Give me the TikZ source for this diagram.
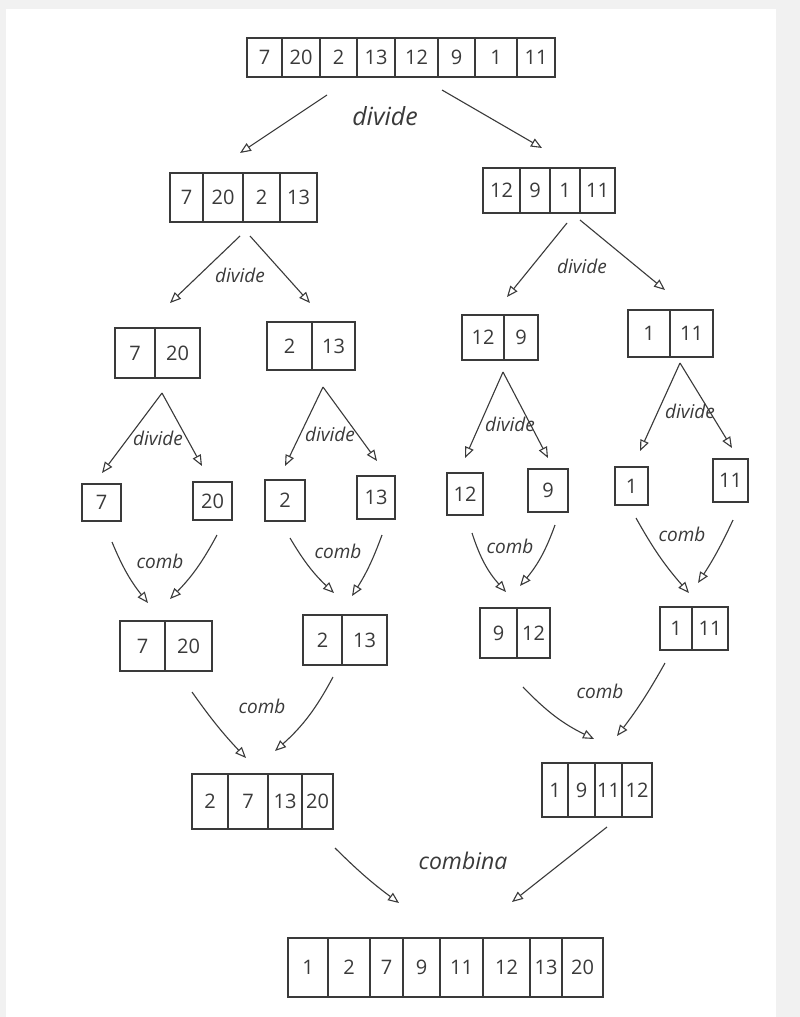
\documentclass[tikz,border=0pt]{standalone}
\usepackage{fontspec}
\setmainfont{Open Sans}
\usetikzlibrary{arrows.meta,calc}
\definecolor{ink}{HTML}{3A3A3A}
\definecolor{paper}{HTML}{F1F1F1}
\tikzset{
  cell/.style={draw=ink,line width=1.1pt,inner sep=0pt,text=ink,font=\fontsize{20}{22}\selectfont},
  arr/.style={draw=ink,line width=1.1pt,-{Triangle[open,length=11pt,width=9pt,line width=1.1pt]}},
  lbl/.style={text=ink,font=\itshape\fontsize{19}{22}\selectfont,inner sep=1pt},
}
\newcommand{\mycell}[6]{\node[cell,minimum width={(#3-#2)*1pt},minimum height={(#5-#4)*1pt}] (#1) at ({(#2+#3)/2},{(#4+#5)/2}) {#6};}
\begin{document}
\begin{tikzpicture}[x=1pt,y=-1pt]
\useasboundingbox (0,0) rectangle (800,1017);
\fill[paper] (0,0) rectangle (800,1017);
\fill[white] (6,9) rectangle (776,1017);
% level 0
\mycell{t1}{247}{282}{38}{77}{7}
\mycell{t2}{282}{320}{38}{77}{20}
\mycell{t3}{320}{357}{38}{77}{2}
\mycell{t4}{357}{395}{38}{77}{13}
\mycell{t5}{395}{438}{38}{77}{12}
\mycell{t6}{438}{475}{38}{77}{9}
\mycell{t7}{475}{517}{38}{77}{1}
\mycell{t8}{517}{555}{38}{77}{11}
% level 1
\mycell{la1}{170}{203}{173}{222}{7}
\mycell{la2}{203}{243}{173}{222}{20}
\mycell{la3}{243}{280}{173}{222}{2}
\mycell{la4}{280}{317}{173}{222}{13}
\mycell{lb1}{483}{520}{168}{213}{12}
\mycell{lb2}{520}{550}{168}{213}{9}
\mycell{lb3}{550}{580}{168}{213}{1}
\mycell{lb4}{580}{615}{168}{213}{11}
% level 2
\mycell{ma1}{115}{155}{328}{378}{7}
\mycell{ma2}{155}{200}{328}{378}{20}
\mycell{mb1}{267}{312}{322}{370}{2}
\mycell{mb2}{312}{355}{322}{370}{13}
\mycell{mc1}{462}{504}{315}{360}{12}
\mycell{mc2}{504}{538}{315}{360}{9}
\mycell{md1}{628}{670}{310}{357}{1}
\mycell{md2}{670}{713}{310}{357}{11}
% level 3 singles
\mycell{s1}{82}{121}{484}{521}{7}
\mycell{s2}{193}{232}{482}{520}{20}
\mycell{s3}{265}{305}{480}{521}{2}
\mycell{s4}{357}{395}{476}{519}{13}
\mycell{s5}{447}{483}{473}{515}{12}
\mycell{s6}{528}{568}{469}{512}{9}
\mycell{s7}{615}{648}{467}{505}{1}
\mycell{s8}{713}{748}{459}{502}{11}
% level 4 pairs
\mycell{p1}{120}{165}{621}{671}{7}
\mycell{p2}{165}{212}{621}{671}{20}
\mycell{p3}{303}{342}{615}{665}{2}
\mycell{p4}{342}{387}{615}{665}{13}
\mycell{p5}{480}{517}{608}{658}{9}
\mycell{p6}{517}{550}{608}{658}{12}
\mycell{p7}{660}{692}{607}{650}{1}
\mycell{p8}{692}{728}{607}{650}{11}
% level 5 quads
\mycell{q1}{192}{228}{774}{829}{2}
\mycell{q2}{228}{268}{774}{829}{7}
\mycell{q3}{268}{302}{774}{829}{13}
\mycell{q4}{302}{333}{774}{829}{20}
\mycell{r1}{542}{568}{763}{817}{1}
\mycell{r2}{568}{595}{763}{817}{9}
\mycell{r3}{595}{622}{763}{817}{11}
\mycell{r4}{622}{652}{763}{817}{12}
% final
\mycell{f1}{288}{328}{938}{997}{1}
\mycell{f2}{328}{370}{938}{997}{2}
\mycell{f3}{370}{403}{938}{997}{7}
\mycell{f4}{403}{440}{938}{997}{9}
\mycell{f5}{440}{483}{938}{997}{11}
\mycell{f6}{483}{530}{938}{997}{12}
\mycell{f7}{530}{562}{938}{997}{13}
\mycell{f8}{562}{603}{938}{997}{20}
% arrow coordinates
\coordinate (a0s) at (327,95);  \coordinate (a0e) at (240,153);
\coordinate (b0s) at (442,90);  \coordinate (b0e) at (542,148);
\coordinate (a1s) at (240,236); \coordinate (a1e) at (170,303);
\coordinate (b1s) at (250,236); \coordinate (b1e) at (310,303);
\coordinate (c1s) at (567,223); \coordinate (c1e) at (507,297);
\coordinate (d1s) at (580,220); \coordinate (d1e) at (665,290);
\coordinate (a2s) at (162,393); \coordinate (a2e) at (102,473);
\coordinate (b2e) at (202,466);
\coordinate (c2s) at (323,387); \coordinate (c2e) at (285,466);
\coordinate (d2e) at (377,461);
\coordinate (e2s) at (503,372); \coordinate (e2e) at (465,458);
\coordinate (f2e) at (548,458);
\coordinate (g2s) at (680,363); \coordinate (g2e) at (640,451);
\coordinate (h2e) at (732,448);
\coordinate (k1s) at (112,542); \coordinate (k1e) at (148,603);
\coordinate (k2s) at (217,535); \coordinate (k2e) at (170,599);
\coordinate (k3s) at (290,538); \coordinate (k3e) at (334,593);
\coordinate (k4s) at (382,535); \coordinate (k4e) at (352,596);
\coordinate (k5s) at (472,533); \coordinate (k5e) at (506,592);
\coordinate (k6s) at (555,525); \coordinate (k6e) at (520,586);
\coordinate (k7s) at (636,518); \coordinate (k7e) at (689,593);
\coordinate (k8s) at (733,520); \coordinate (k8e) at (698,583);
\coordinate (m1s) at (192,692); \coordinate (m1e) at (246,758);
\coordinate (m2s) at (333,677); \coordinate (m2e) at (275,751);
\coordinate (m3s) at (523,687); \coordinate (m3e) at (594,739);
\coordinate (m4s) at (665,663); \coordinate (m4e) at (617,736);
\coordinate (n1s) at (335,848); \coordinate (n1e) at (399,903);
\coordinate (n2s) at (607,827); \coordinate (n2e) at (512,902);
% arrows
\draw[arr] (a0s) -- (a0e);
\draw[arr] (b0s) -- (b0e);
\draw[arr] (a1s) -- (a1e);
\draw[arr] (b1s) -- (b1e);
\draw[arr] (c1s) -- (c1e);
\draw[arr] (d1s) -- (d1e);
\draw[arr] (a2s) -- (a2e);
\draw[arr] (a2s) -- (b2e);
\draw[arr] (c2s) -- (c2e);
\draw[arr] (c2s) -- (d2e);
\draw[arr] (e2s) -- (e2e);
\draw[arr] (e2s) -- (f2e);
\draw[arr] (g2s) -- (g2e);
\draw[arr] (g2s) -- (h2e);
\draw[arr] (k1s) to[bend right=8] (k1e);
\draw[arr] (k2s) to[bend left=8] (k2e);
\draw[arr] (k3s) to[bend right=8] (k3e);
\draw[arr] (k4s) to[bend left=6] (k4e);
\draw[arr] (k5s) to[bend right=12] (k5e);
\draw[arr] (k6s) to[bend left=10] (k6e);
\draw[arr] (k7s) to[bend right=6] (k7e);
\draw[arr] (k8s) to[bend left=4] (k8e);
\draw[arr] (m1s) to[bend right=4] (m1e);
\draw[arr] (m2s) to[bend left=10] (m2e);
\draw[arr] (m3s) to[bend right=10] (m3e);
\draw[arr] (m4s) to[bend left=4] (m4e);
\draw[arr] (n1s) to[bend right=4] (n1e);
\draw[arr] (n2s) -- (n2e);
% labels
\node[lbl,font=\itshape\fontsize{25}{28}\selectfont] (l0) at (385,116) {divide};
\node[lbl] (l1) at (240,275) {divide};
\node[lbl] (l2) at (582,266) {divide};
\node[lbl] (l3) at (158,438) {divide};
\node[lbl] (l4) at (330,434) {divide};
\node[lbl] (l5) at (510,424) {divide};
\node[lbl] (l6) at (690,411) {divide};
\node[lbl] (l7) at (160,561) {comb};
\node[lbl] (l8) at (338,551) {comb};
\node[lbl] (l9) at (510,546) {comb};
\node[lbl] (l10) at (682,534) {comb};
\node[lbl] (l11) at (262,706) {comb};
\node[lbl] (l12) at (600,691) {comb};
\node[lbl,font=\itshape\fontsize{23}{26}\selectfont] (l13) at (463,861) {combina};
\end{tikzpicture}
\end{document}
